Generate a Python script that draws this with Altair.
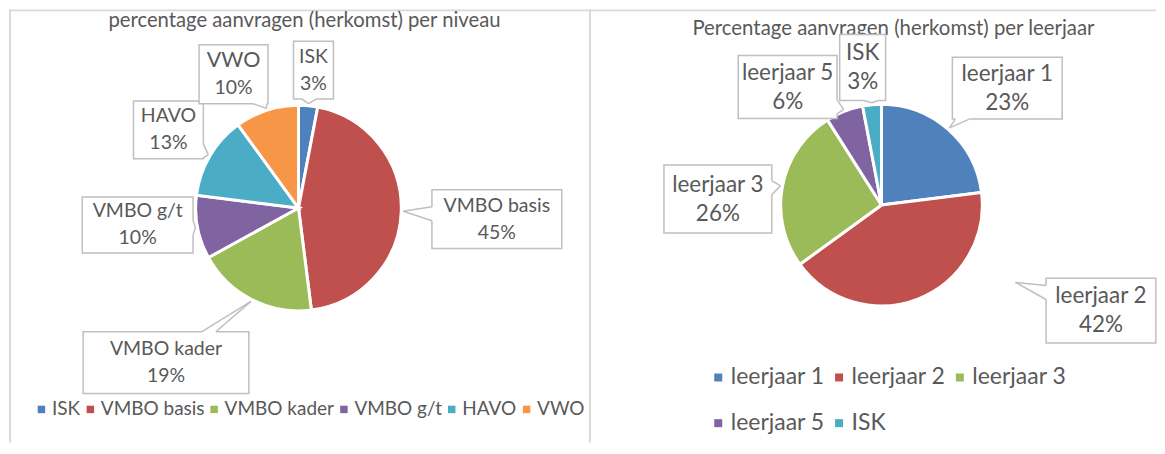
import math
import altair as alt
import pandas as pd

# ---------------- data ----------------
niveau_cats = ["ISK", "VMBO basis", "VMBO kader", "VMBO g/t", "HAVO", "VWO"]
niveau_vals = [3, 45, 19, 10, 13, 10]

leerjaar_cats = ["leerjaar 1", "leerjaar 2", "leerjaar 3", "leerjaar 5", "ISK"]
leerjaar_vals = [23, 42, 26, 6, 3]

title_left = "percentage aanvragen (herkomst) per niveau"
title_right = "Percentage aanvragen (herkomst) per leerjaar"

# ---------------- style / layout ----------------
PALETTE = ["#4F81BD", "#C0504D", "#9BBB59", "#8064A2", "#4BACC6", "#F79646"]
TEXT = "#595959"
FRAME = "#D9D9D9"
FONT = "Lato"
W, H = 1149, 434

# pie centres / radii (chart pixels)
L_CX, L_CY, L_R = 290, 199, 103
R_CX, R_CY, R_R = 874, 196, 101

# per label: (label radius, angle nudge deg, box w, box h, tip angle override, tip radius override, name font size)
L_LAYOUT = [
    (139, 0.8, 40, 58, None, None, 19.5),
    (199, 1.4, 130, 59, None, None, 19.5),
    (204, 13.6, 166, 62, None, None, 19.5),
    (162, 4.8, 111, 56, None, None, 19.5),
    (152, 0.4, 70, 58, None, None, 19.5),
    (149, -7.9, 69, 59, None, None, 21.5),
]
R_LAYOUT = [
    (172, 5.7, 110, 62, None, None, 22.5),
    (244, -42.7, 110, 65, 120.0, 155.0, 22.5),
    (164, -8.7, 108, 68, None, None, 22.5),
    (151, -16.9, 99, 63, None, None, 22.5),
    (139, -2.4, 46, 66, None, None, 22.5),
]


def geometry(cats, vals, cx, cy, r, layout):
    total = float(sum(vals))
    cum = 0.0
    rows = []
    for i, (c, v) in enumerate(zip(cats, vals)):
        mid = (cum + v / 2.0) / total * 360.0
        cum += v
        lr, nudge, bw, bh, tip_a, tip_r, nfs = layout[i]
        a = math.radians(mid + nudge)
        bx = cx + lr * math.sin(a)
        by = cy - lr * math.cos(a)
        ta = math.radians(tip_a if tip_a is not None else mid)
        tr = tip_r if tip_r is not None else r + 2
        tx = cx + tr * math.sin(ta)
        ty = cy - tr * math.cos(ta)
        dx, dy = tx - bx, ty - by
        hw, hh = bw / 2.0, bh / 2.0
        tx_ = hw / abs(dx) if dx else 1e9
        ty_ = hh / abs(dy) if dy else 1e9
        t = min(tx_, ty_)
        ex, ey = bx + t * dx, by + t * dy
        half = 7
        if tx_ < ty_:
            e = min(max(ey, by - hh + half + 1), by + hh - half - 1)
            p1, p2 = (ex, e - half), (ex, e + half)
        else:
            e = min(max(ex, bx - hw + half + 1), bx + hw - half - 1)
            p1, p2 = (e - half, ey), (e + half, ey)
        rows.append(dict(
            cat=c, value=v, idx=i, pct=f"{v}%", nfs=nfs,
            bx=bx, by=by, x1=bx - hw, x2=bx + hw, y1=by - hh, y2=by + hh,
            tx=tx, ty=ty, p1x=p1[0], p1y=p1[1], p2x=p2[0], p2y=p2[1],
            wedge=t < 1,
        ))
    return pd.DataFrame(rows)


left = geometry(niveau_cats, niveau_vals, L_CX, L_CY, L_R, L_LAYOUT)
right = geometry(leerjaar_cats, leerjaar_vals, R_CX, R_CY, R_R, R_LAYOUT)

xs = alt.Scale(domain=[0, W], nice=False, zero=False)
ys = alt.Scale(domain=[0, H], nice=False, zero=False, reverse=True)


def X(f):
    return alt.X(f, type="quantitative", scale=xs, axis=None)


def Y(f):
    return alt.Y(f, type="quantitative", scale=ys, axis=None)


def pie(df, cats, cx, cy, r, legend):
    return alt.Chart(df).mark_arc(outerRadius=r, stroke="white", strokeWidth=3).encode(
        theta=alt.Theta("value:Q", stack=True),
        order=alt.Order("idx:Q"),
        color=alt.Color("cat:N", scale=alt.Scale(domain=cats, range=PALETTE[:len(cats)]),
                        legend=legend),
        x=alt.value(cx), y=alt.value(cy),
    )


def labels(df, fs, lh):
    base = alt.Chart(df)
    boxes = base.mark_rect(fill="white", stroke="#BFBFBF", strokeWidth=1.5).encode(
        x=X("x1"), x2="x2", y=Y("y1"), y2="y2")
    wd = df[df["wedge"]]
    wb = alt.Chart(wd)
    gap = wb.mark_rule(color="white", strokeWidth=3).encode(
        x=X("p1x"), x2="p2x", y=Y("p1y"), y2="p2y")
    w1 = wb.mark_rule(color="#BFBFBF", strokeWidth=1.5).encode(
        x=X("p1x"), x2="tx", y=Y("p1y"), y2="ty")
    w2 = wb.mark_rule(color="#BFBFBF", strokeWidth=1.5).encode(
        x=X("p2x"), x2="tx", y=Y("p2y"), y2="ty")
    name = base.mark_text(font=FONT, color=TEXT, baseline="middle", align="center",
                          dy=-lh / 2.0).encode(
        x=X("bx"), y=Y("by"), text="cat:N", size=alt.Size("nfs:Q", scale=None, legend=None))
    pct = base.mark_text(font=FONT, fontSize=fs, color=TEXT, baseline="middle",
                         align="center", dy=lh / 2.0).encode(
        x=X("bx"), y=Y("by"), text="pct:N")
    return [boxes, gap, w1, w2, name, pct]


leg_common = dict(orient="none", direction="horizontal", symbolType="square",
                  symbolStrokeWidth=0, labelFont=FONT, labelColor=TEXT, title=None,
                  padding=0, labelOffset=1)

left_leg = alt.Legend(legendX=23, legendY=391, columns=6, symbolSize=56,
                      labelFontSize=19, columnPadding=0, **leg_common)
right_leg = alt.Legend(legendX=699, legendY=357, columns=3, symbolSize=64,
                       labelFontSize=23, columnPadding=2, rowPadding=22, **leg_common)

frame_df = pd.DataFrame({"k": [0]})
frame = [
    alt.Chart(frame_df).mark_rule(color=FRAME, strokeWidth=2).encode(
        x=alt.value(0), x2=alt.value(W), y=alt.value(1), y2=alt.value(1)),
    alt.Chart(frame_df).mark_rule(color=FRAME, strokeWidth=2).encode(
        x=alt.value(1), x2=alt.value(1), y=alt.value(0), y2=alt.value(H)),
    alt.Chart(frame_df).mark_rule(color=FRAME, strokeWidth=2).encode(
        x=alt.value(582), x2=alt.value(582), y=alt.value(0), y2=alt.value(H)),
]

titles = [
    alt.Chart(frame_df).mark_text(font=FONT, fontSize=20.3, color=TEXT).encode(
        x=alt.value(296), y=alt.value(12), text=alt.value(title_left)),
    alt.Chart(frame_df).mark_text(font=FONT, fontSize=20.4, color=TEXT).encode(
        x=alt.value(886), y=alt.value(20), text=alt.value(title_right)),
]

layers = (frame + titles
          + [pie(left, niveau_cats, L_CX, L_CY, L_R, left_leg)]
          + [pie(right, leerjaar_cats, R_CX, R_CY, R_R, right_leg)]
          + labels(left, 19.5, 27) + labels(right, 22.5, 29))

chart = alt.layer(*layers).resolve_scale(
    color="independent", theta="independent"
).properties(width=W, height=H, padding=0).configure_view(stroke=None)

chart.save("out.html", embed_options={"renderer": "svg", "actions": False})
